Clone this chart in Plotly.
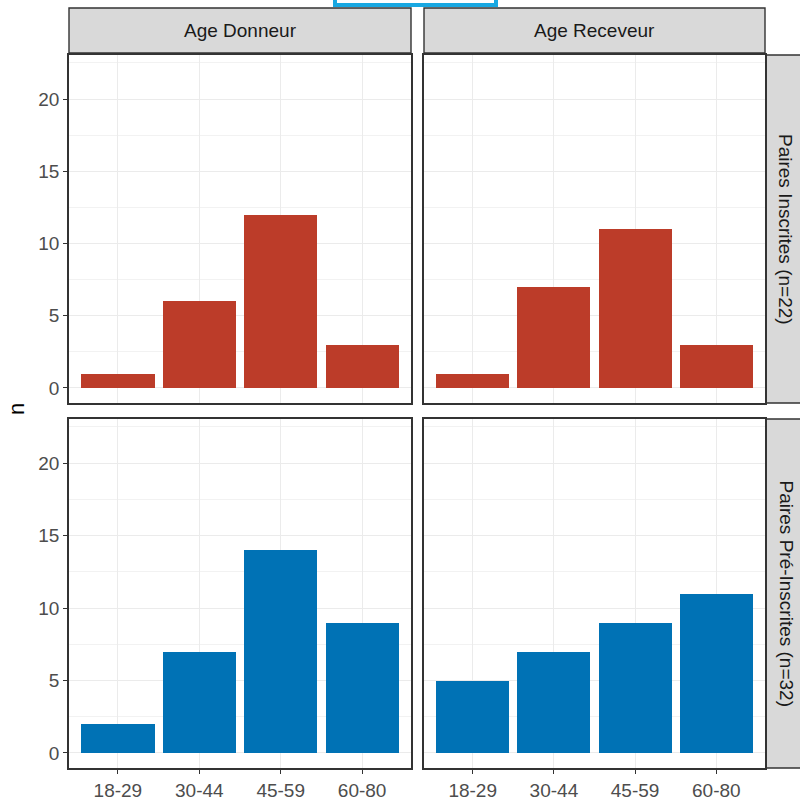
import plotly.graph_objects as go

W, H = 800, 802

categories = ["18-29", "30-44", "45-59", "60-80"]
donneur_inscrites = [1, 6, 12, 3]
receveur_inscrites = [1, 7, 11, 3]
donneur_pre = [2, 7, 14, 9]
receveur_pre = [5, 7, 9, 11]

col_titles = ["Age Donneur", "Age Receveur"]
row_titles = ["Paires Inscrites (n=22)", "Paires Pré-Inscrites (n=32)"]
y_ticks = [0, 5, 10, 15, 20]
y_minor = [2.5, 7.5, 12.5, 17.5, 22.5]
y_label = "n"

RED = "#BC3C29"
BLUE = "#0072B5"

def px(x):
    return x / W

def py(y):
    return (H - y) / H

# pixel geometry
cols_px = [(69, 411), (424, 765)]
rows_px = [(55, 403), (419, 768)]
strip_top = (8, 53)
strip_right = (766, 812)

fig = go.Figure()

panels = [
    (0, 0, donneur_inscrites, RED),
    (0, 1, receveur_inscrites, RED),
    (1, 0, donneur_pre, BLUE),
    (1, 1, receveur_pre, BLUE),
]

font_family = "Liberation Sans, Arial, sans-serif"
TICK_SIZE = 19
STRIP_SIZE = 19
BORDER = "#333333"

for i, (r, c, vals, color) in enumerate(panels):
    idx = i + 1
    xa = "x" if idx == 1 else f"x{idx}"
    ya = "y" if idx == 1 else f"y{idx}"
    fig.add_trace(go.Bar(
        x=categories, y=vals, width=0.9, marker=dict(color=color, line=dict(width=0)),
        xaxis=xa, yaxis=ya, showlegend=False,
    ))
    xkey = "xaxis" if idx == 1 else f"xaxis{idx}"
    ykey = "yaxis" if idx == 1 else f"yaxis{idx}"
    x0, x1 = cols_px[c]
    y0, y1 = rows_px[r]
    fig.update_layout(**{
        xkey: dict(
            domain=[px(x0), px(x1)], anchor=ya,
            type="category", categoryorder="array", categoryarray=categories,
            range=[-0.6, 3.6],
            showgrid=True, gridcolor="#EBEBEB", gridwidth=1.2,
            showline=True, linecolor=BORDER, linewidth=1.8, mirror=True,
            ticks="outside" if r == 1 else "", ticklen=4, tickwidth=1.3, tickcolor=BORDER,
            showticklabels=(r == 1),
            tickfont=dict(family=font_family, size=TICK_SIZE, color="#4D4D4D"),
            zeroline=False, fixedrange=True,
        ),
        ykey: dict(
            domain=[py(y1), py(y0)], anchor=xa,
            range=[-1.04, 23.05],
            tickvals=y_ticks,
            showgrid=True, gridcolor="#EBEBEB", gridwidth=1.2,
            minor=dict(tickvals=y_minor, showgrid=True,
                       gridcolor="#F2F2F2", gridwidth=0.6, ticks=""),
            showline=True, linecolor=BORDER, linewidth=1.8, mirror=True,
            ticks="outside" if c == 0 else "", ticklen=4, tickwidth=1.3, tickcolor=BORDER,
            showticklabels=(c == 0),
            tickfont=dict(family=font_family, size=TICK_SIZE, color="#4D4D4D"),
            zeroline=False, fixedrange=True,
        ),
    })

shapes = []
annotations = []
# top strips
for c, title in enumerate(col_titles):
    x0, x1 = cols_px[c]
    shapes.append(dict(type="rect", xref="paper", yref="paper",
                       x0=px(x0), x1=px(x1), y0=py(strip_top[1]), y1=py(strip_top[0]),
                       fillcolor="#D9D9D9", line=dict(color=BORDER, width=1.4), layer="below"))
    annotations.append(dict(text=title, xref="paper", yref="paper",
                            x=px((x0 + x1) / 2), y=py((strip_top[0] + strip_top[1]) / 2),
                            xanchor="center", yanchor="middle", showarrow=False,
                            font=dict(family=font_family, size=STRIP_SIZE, color="#1A1A1A")))
# right strips
for r, title in enumerate(row_titles):
    y0, y1 = rows_px[r]
    shapes.append(dict(type="rect", xref="paper", yref="paper",
                       x0=px(strip_right[0]), x1=px(strip_right[1]), y0=py(y1), y1=py(y0),
                       fillcolor="#D9D9D9", line=dict(color=BORDER, width=1.4), layer="below"))
    annotations.append(dict(text=title, xref="paper", yref="paper",
                            x=px(786), y=py((y0 + y1) / 2), textangle=90,
                            xanchor="center", yanchor="middle", showarrow=False,
                            font=dict(family=font_family, size=STRIP_SIZE, color="#1A1A1A")))
# y-axis title
annotations.append(dict(text=y_label, xref="paper", yref="paper",
                        x=px(16), y=py(409), textangle=-90,
                        xanchor="center", yanchor="middle", showarrow=False,
                        font=dict(family=font_family, size=22, color="#000000")))
# cyan highlight box at the very top
shapes.append(dict(type="rect", xref="paper", yref="paper",
                   x0=px(335), x1=px(496), y0=py(5), y1=py(-20),
                   fillcolor="rgba(0,0,0,0)", line=dict(color="#18A8E2", width=4)))

fig.update_layout(
    width=W, height=H,
    margin=dict(l=0, r=0, t=0, b=0),
    paper_bgcolor="white", plot_bgcolor="white",
    bargap=0, shapes=shapes, annotations=annotations,
    font=dict(family=font_family),
)

fig.write_html("out.html", config={"displayModeBar": False},
               post_script="document.body.style.margin='0px';document.body.style.overflow='hidden';")
